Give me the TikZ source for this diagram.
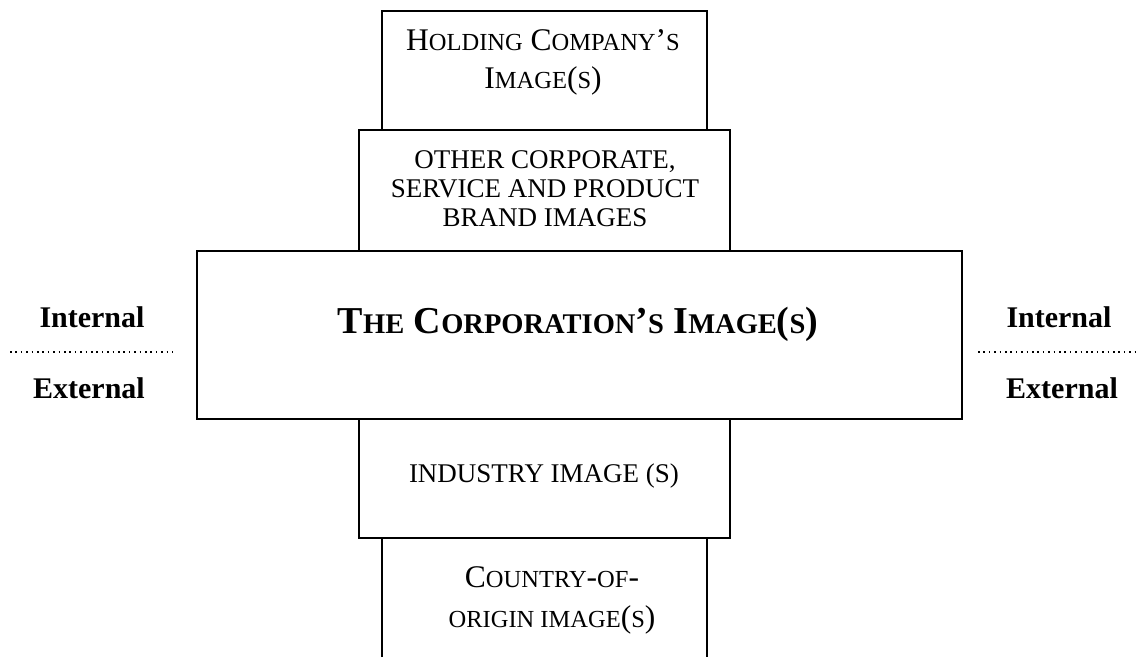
\documentclass[tikz,border=0pt]{standalone}
\usepackage{fontspec}
\setmainfont{Liberation Serif}
% small-capital parts: reduced-size capitals
\newcommand\scA[1]{{\fontsize{24.5}{30}\selectfont #1}}
\newcommand\scT[1]{{\fontsize{28.5}{34}\selectfont #1}}
\begin{document}
\begin{tikzpicture}[x=1pt,y=-1pt,
  boxline/.style={line width=1.6pt},
  imgbox/.style={boxline, draw, rectangle, inner sep=0pt},
  txt/.style={anchor=base, align=center, inner sep=0pt},
  plain/.style={txt, font=\fontsize{27}{29}\selectfont},
  caps/.style={txt, font=\fontsize{31.5}{38}\selectfont},
  side/.style={txt, font=\bfseries\fontsize{30}{36}\selectfont},
  divider/.style={line width=1.5pt, dash pattern=on 1.5pt off 3.9pt}]
\useasboundingbox (0,0) rectangle (1139,657);

% stacked image boxes
\node[imgbox, minimum width=325, minimum height=119] (hold) at (544.5,70.5) {};
\node[imgbox, minimum width=371, minimum height=121] (other) at (544.5,190.5) {};
\node[imgbox, minimum width=765, minimum height=168] (corp) at (579.5,335) {};
\node[imgbox, minimum width=371, minimum height=119] (ind) at (544.5,478.5) {};
\node[rectangle, inner sep=0pt, minimum width=325, minimum height=119] (country) at (544.5,597.5) {};
\draw[boxline] (country.south west) -- (country.north west) -- (country.north east) -- (country.south east);

% box texts (base anchor = baseline of the last line)
\node[caps] (holdtxt) at (543,88) {H\scA{OLDING} C\scA{OMPANY}’\scA{S}\\I\scA{MAGE}(\scA{S})};
\node[plain] (othertxt) at (545,226) {OTHER CORPORATE,\\SERVICE AND PRODUCT\\BRAND IMAGES};
\node[txt, font=\bfseries\fontsize{38}{46}\selectfont] (corptxt) at (578,333)
  {T\scT{HE} C\scT{ORPORATION}’\scT{S} I\scT{MAGE}(\scT{S})};
\node[plain] (indtxt) at (544,482) {INDUSTRY IMAGE (S)};
\node[caps, font=\fontsize{31.5}{40}\selectfont] (countrytxt) at (552,627) {C\scA{OUNTRY}-\scA{OF}-\\\scA{ORIGIN IMAGE}(\scA{S})};

% internal / external split
\node[side] (inL) at (92,327) {Internal};
\node[side] (exL) at (89,398) {External};
\node[side] (inR) at (1059,327) {Internal};
\node[side] (exR) at (1062,398) {External};
\coordinate (dl1) at (10,352);
\coordinate (dl2) at (173,352);
\coordinate (dr1) at (978,352);
\coordinate (dr2) at (1139,352);
\draw[divider] (dl1) -- (dl2);
\draw[divider] (dr1) -- (dr2);
\end{tikzpicture}
\end{document}
